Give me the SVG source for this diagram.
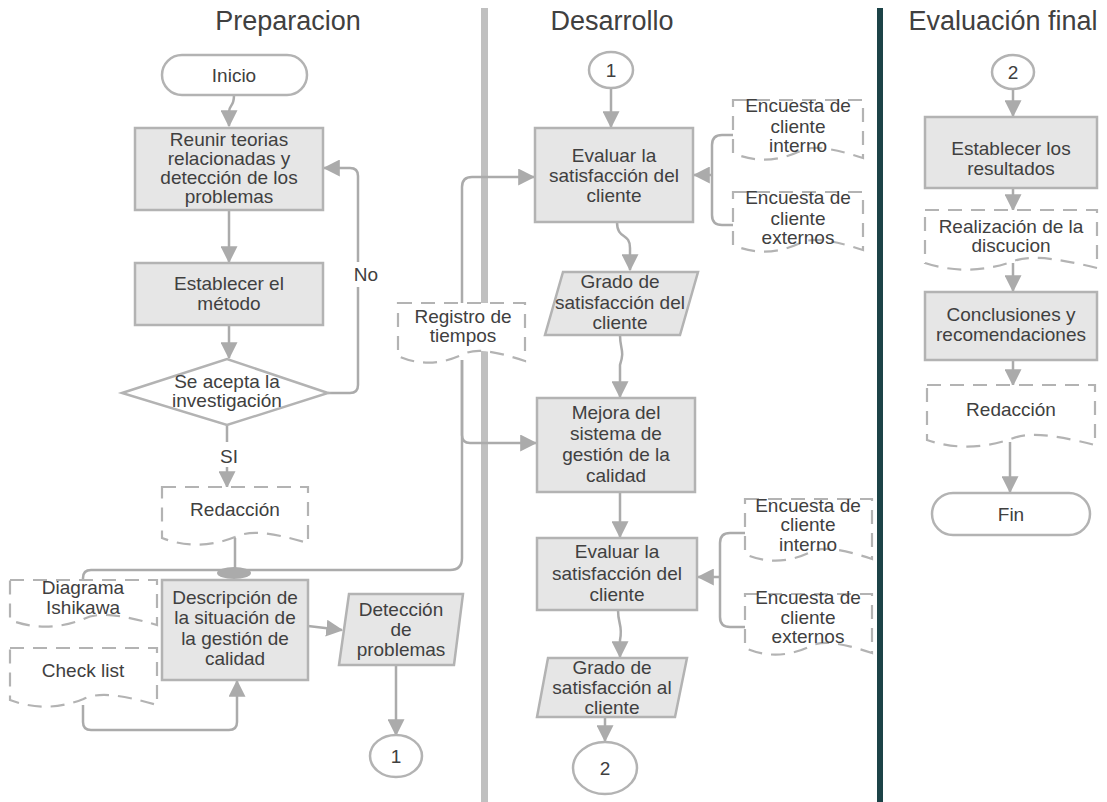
<svg xmlns="http://www.w3.org/2000/svg" width="1107" height="802" viewBox="0 0 1107 802">
<defs>
<marker id="ah" viewBox="0 0 14 14" markerWidth="17" markerHeight="17" markerUnits="userSpaceOnUse" refX="13" refY="7" orient="auto">
<path d="M0,0 L14,7 L0,14 z" fill="#ababab"/>
</marker>
<style>
text{font-family:"Liberation Sans",Arial,sans-serif;fill:#404040;text-anchor:middle;}
.t{font-size:19px;}
.h{font-size:27px;}
.box{fill:#e6e6e6;stroke:#b3b3b3;stroke-width:2.5;}
.term{fill:#ffffff;stroke:#b3b3b3;stroke-width:2.5;}
.doc{fill:#ffffff;stroke:#b3b3b3;stroke-width:2.2;stroke-dasharray:14 9;}
.c{fill:none;stroke:#ababab;stroke-width:2.5;}
.a{marker-end:url(#ah);}
</style>
</defs>
<rect width="1107" height="802" fill="#ffffff"/>
<!-- lanes -->
<rect x="481" y="8" width="7" height="794" fill="#c0c0c0"/>
<rect x="877" y="8" width="6" height="794" fill="#1c4347"/>
<text class="h" x="288" y="30">Preparacion</text>
<text class="h" x="612" y="30">Desarrollo</text>
<text class="h" x="1003" y="30">Evaluación final</text>

<g id="connectors">
<path class="c a" d="M234,95 C234,108 229,104 229,112 V126"/>
<path class="c a" d="M229,210 V262"/>
<path class="c a" d="M229,325 V358"/>
<path class="c" d="M328,393 H350 Q358,393 358,385 V287"/>
<path class="c a" d="M358,262 V176 Q358,168 350,168 H324"/>
<path class="c" d="M227,425 V442"/>
<path class="c a" d="M227,467 V487"/>
<path class="c" d="M235,538 V570"/>
<ellipse cx="234" cy="573" rx="17" ry="6" fill="#ababab"/>
<path class="c" d="M83,581 V578 Q83,570 91,570 H450 Q462,570 462,558 V360"/>
<path class="c a" d="M462,304 V187 Q462,177 472,177 H534"/>
<path class="c a" d="M462,360 V435 Q462,443 470,443 H536"/>
<path class="c a" d="M83,705 V722 Q83,730 91,730 H229 Q237,730 237,722 V681"/>
<path class="c a" d="M308,626 L342,630"/>
<path class="c a" d="M396,665 V735"/>
<path class="c a" d="M611,89 V127"/>
<path class="c a" d="M617,222 C617,240 630,232 630,248 V270"/>
<path class="c" d="M735,135 H722 Q712,135 712,145 V215 Q712,225 722,225 H735"/>
<path class="c a" d="M712,175 H694"/>
<path class="c a" d="M620,335 C620,350 625,350 620,365 V397"/>
<path class="c a" d="M620,492 V537"/>
<path class="c" d="M745,533 H730 Q720,533 720,543 V617 Q720,627 730,627 H745"/>
<path class="c a" d="M720,577 H698"/>
<path class="c a" d="M618,610 C618,625 623,625 620,640 V657"/>
<path class="c a" d="M605,717 V741"/>
<path class="c a" d="M1013,89 V116"/>
<path class="c a" d="M1013,188 V210"/>
<path class="c a" d="M1013,263 V291"/>
<path class="c a" d="M1013,360 V385"/>
<path class="c a" d="M1010,442 V492"/>
</g>

<text class="t" x="366" y="281">No</text>
<text class="t" x="229" y="463">SI</text>

<g id="inicio">
<rect class="term" x="162" y="55" width="145" height="40" rx="20"/>
<text class="t" x="234" y="82">Inicio</text>
</g>
<g id="reunir">
<rect class="box" x="135" y="128" width="188" height="82"/>
<text class="t" x="229" y="146">Reunir teorias</text>
<text class="t" x="229" y="165">relacionadas y</text>
<text class="t" x="229" y="184">detección de los</text>
<text class="t" x="229" y="203">problemas</text>
</g>
<g id="metodo">
<rect class="box" x="135" y="263" width="188" height="62"/>
<text class="t" x="229" y="290">Establecer el</text>
<text class="t" x="229" y="310">método</text>
</g>
<g id="decision">
<path class="term" d="M122,393 L227,359 L328,393 L227,425 Z"/>
<text class="t" x="227" y="388">Se acepta la</text>
<text class="t" x="227" y="407">investigación</text>
</g>
<g id="redaccion1">
<path class="doc" d="M162,487 H308 V543 C270,532 250,530 235,537 C210,547 185,547 162,538 Z"/>
<text class="t" x="235" y="516">Redacción</text>
</g>
<g id="ishikawa">
<path class="doc" d="M10,580 H157 V625 C119,614 98,612 83.5,619 C58.5,629 33.5,629 10,620 Z"/>
<text class="t" x="83" y="594">Diagrama</text>
<text class="t" x="83" y="614">Ishikawa</text>
</g>
<g id="checklist">
<path class="doc" d="M10,648 H157 V705 C119,694 98,692 83.5,699 C58.5,709 33.5,709 10,700 Z"/>
<text class="t" x="83" y="677">Check list</text>
</g>
<g id="descripcion">
<rect class="box" x="162" y="580" width="146" height="100"/>
<text class="t" x="235" y="604">Descripción de</text>
<text class="t" x="235" y="624">la situación de</text>
<text class="t" x="235" y="645">la gestión de</text>
<text class="t" x="235" y="665">calidad</text>
</g>
<g id="deteccion">
<path class="box" d="M349,594 H463 L454,665 H339 Z"/>
<text class="t" x="401" y="616">Detección</text>
<text class="t" x="401" y="636">de</text>
<text class="t" x="401" y="656">problemas</text>
</g>
<g id="conn1a">
<ellipse class="term" cx="396" cy="756" rx="26" ry="21"/>
<text class="t" x="396" y="763">1</text>
</g>
<g id="registro">
<path class="doc" d="M398,303 H525 V361 C492,350 474,348 461.5,355 C440,365 418,365 398,356 Z"/>
<text class="t" x="463" y="323">Registro de</text>
<text class="t" x="463" y="342">tiempos</text>
</g>

<g id="conn1b">
<ellipse class="term" cx="611" cy="70" rx="22" ry="18"/>
<text class="t" x="611" y="77">1</text>
</g>
<g id="evaluar1">
<rect class="box" x="535" y="128" width="158" height="94"/>
<text class="t" x="614" y="162">Evaluar la</text>
<text class="t" x="614" y="182">satisfacción del</text>
<text class="t" x="614" y="202">cliente</text>
</g>
<g id="encInt1">
<path class="doc" d="M733,100 H863 V158 C829,147 811,145 798,152 C776,162 754,162 733,153 Z"/>
<text class="t" x="798" y="112">Encuesta de</text>
<text class="t" x="798" y="133">cliente</text>
<text class="t" x="798" y="152">interno</text>
</g>
<g id="encExt1">
<path class="doc" d="M733,192 H863 V250 C829,239 811,237 798,244 C776,254 754,254 733,245 Z"/>
<text class="t" x="798" y="204">Encuesta de</text>
<text class="t" x="798" y="225">cliente</text>
<text class="t" x="798" y="244">externos</text>
</g>
<g id="grado1">
<path class="box" d="M563,272 H698 L680,335 H545 Z"/>
<text class="t" x="620" y="288">Grado de</text>
<text class="t" x="620" y="309">satisfacción del</text>
<text class="t" x="620" y="329">cliente</text>
</g>
<g id="mejora">
<rect class="box" x="537" y="398" width="158" height="94"/>
<text class="t" x="616" y="419">Mejora del</text>
<text class="t" x="616" y="440">sistema de</text>
<text class="t" x="616" y="461">gestión de la</text>
<text class="t" x="616" y="482">calidad</text>
</g>
<g id="evaluar2">
<rect class="box" x="537" y="538" width="160" height="72"/>
<text class="t" x="617" y="558">Evaluar la</text>
<text class="t" x="617" y="580">satisfacción del</text>
<text class="t" x="617" y="601">cliente</text>
</g>
<g id="encInt2">
<path class="doc" d="M745,499 H872 V559 C839,548 821,546 808.5,553 C787,563 765,563 745,554 Z"/>
<text class="t" x="808" y="512">Encuesta de</text>
<text class="t" x="808" y="531">cliente</text>
<text class="t" x="808" y="551">interno</text>
</g>
<g id="encExt2">
<path class="doc" d="M745,594 H872 V653 C839,642 821,640 808.5,647 C787,657 765,657 745,648 Z"/>
<text class="t" x="808" y="604">Encuesta de</text>
<text class="t" x="808" y="624">cliente</text>
<text class="t" x="808" y="643">externos</text>
</g>
<g id="grado2">
<path class="box" d="M548,658 H687 L675,717 H537 Z"/>
<text class="t" x="612" y="674">Grado de</text>
<text class="t" x="612" y="694">satisfacción al</text>
<text class="t" x="612" y="714">cliente</text>
</g>
<g id="conn2a">
<ellipse class="term" cx="605" cy="768" rx="32" ry="26"/>
<text class="t" x="605" y="775">2</text>
</g>

<g id="conn2b">
<ellipse class="term" cx="1013" cy="72" rx="21" ry="17"/>
<text class="t" x="1013" y="79">2</text>
</g>
<g id="resultados">
<rect class="box" x="925" y="117" width="172" height="71"/>
<text class="t" x="1011" y="155">Establecer los</text>
<text class="t" x="1011" y="175">resultados</text>
</g>
<g id="discusion">
<path class="doc" d="M925,210 H1097 V268 C1052,257 1028,255 1011,262 C982,272 952,272 925,263 Z"/>
<text class="t" x="1011" y="233">Realización de la</text>
<text class="t" x="1011" y="252">discucion</text>
</g>
<g id="conclusiones">
<rect class="box" x="925" y="292" width="172" height="68"/>
<text class="t" x="1011" y="321">Conclusiones y</text>
<text class="t" x="1011" y="341">recomendaciones</text>
</g>
<g id="redaccion2">
<path class="doc" d="M927,385 H1095 V445 C1051,434 1028,432 1011,439 C982,449 954,449 927,440 Z"/>
<text class="t" x="1011" y="416">Redacción</text>
</g>
<g id="fin">
<rect class="term" x="932" y="493" width="158" height="42" rx="21"/>
<text class="t" x="1011" y="521">Fin</text>
</g>
</svg>
